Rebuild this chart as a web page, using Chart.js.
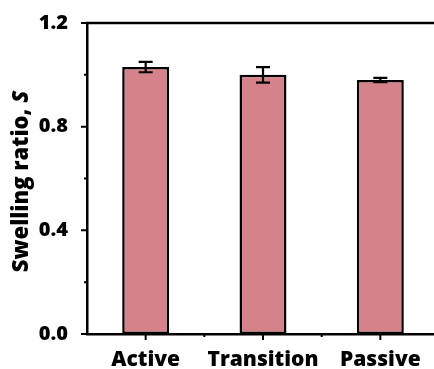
<!DOCTYPE html>
<html>
<head>
<meta charset="utf-8">
<script src="https://cdn.jsdelivr.net/npm/chart.js@4.4.1/dist/chart.umd.min.js"></script>
<style>
    html, body { margin: 0; padding: 0; background: #fff; overflow: hidden; }
    #wrap { position: relative; width: 440px; height: 369px; }
</style>
</head>
<body>
<div id="wrap"><canvas id="chart"></canvas></div>
<script>
    "use strict";

    let categories = ['Active', 'Transition', 'Passive'];
    let swellingValues = [1.03, 1.00, 0.98];
    let swellingErrors = [0.02, 0.03, 0.008];
    let majorTicks = [0, 0.4, 0.8, 1.2];
    let minorTicks = [0.2, 0.6, 1.0];

    let fontName = '"Open Sans", "Noto Sans", sans-serif';

    // error bars, drawn on top of the bars
    let errorBarPlugin = {
        id: 'errorBars',
        afterDatasetsDraw(chart) {
            let ctx = chart.ctx;
            let y = chart.scales.y;
            let meta = chart.getDatasetMeta(0);
            ctx.save();
            ctx.strokeStyle = '#000';
            ctx.lineWidth = 2.2;
            meta.data.forEach((bar, i) => {
                let top = y.getPixelForValue(swellingValues[i] + swellingErrors[i]);
                let bottom = y.getPixelForValue(swellingValues[i] - swellingErrors[i]);
                let x = bar.x;
                ctx.beginPath();
                ctx.moveTo(x, top);
                ctx.lineTo(x, bottom);
                ctx.moveTo(x - 7, top);
                ctx.lineTo(x + 7, top);
                ctx.moveTo(x - 7, bottom);
                ctx.lineTo(x + 7, bottom);
                ctx.stroke();
            });
            ctx.restore();
        }
    };

    // ticks, top frame line and the y title with italic S
    let framePlugin = {
        id: 'frame',
        afterDraw(chart) {
            let ctx = chart.ctx;
            let area = chart.chartArea;
            let y = chart.scales.y;
            let x = chart.scales.x;
            ctx.save();
            ctx.strokeStyle = '#000';
            ctx.lineWidth = 2.5;
            ctx.beginPath();
            ctx.moveTo(area.left - 1, area.top);
            ctx.lineTo(area.right, area.top);
            ctx.stroke();

            ctx.lineWidth = 2;
            ctx.beginPath();
            majorTicks.forEach(v => {
                let py = y.getPixelForValue(v);
                ctx.moveTo(area.left - 6, py);
                ctx.lineTo(area.left, py);
            });
            minorTicks.forEach(v => {
                let py = y.getPixelForValue(v);
                ctx.moveTo(area.left - 3, py);
                ctx.lineTo(area.left, py);
            });
            categories.forEach((c, i) => {
                let px = x.getPixelForValue(i);
                ctx.moveTo(px, area.bottom);
                ctx.lineTo(px, area.bottom + 6);
                let mx = x.getPixelForValue(i + 0.5);
                ctx.moveTo(mx, area.bottom);
                ctx.lineTo(mx, area.bottom + 3);
            });
            ctx.stroke();

            // y axis title
            let part1 = 'Swelling ratio, ';
            let part2 = 'S';
            ctx.translate(22, (area.top + area.bottom) / 2 + 3);
            ctx.rotate(-Math.PI / 2);
            ctx.fillStyle = '#000';
            ctx.textBaseline = 'middle';
            ctx.font = '800 22px ' + fontName;
            let w1 = ctx.measureText(part1).width;
            ctx.font = 'italic 800 22px ' + fontName;
            let w2 = ctx.measureText(part2).width;
            let start = -(w1 + w2) / 2;
            ctx.font = '800 22px ' + fontName;
            ctx.textAlign = 'left';
            ctx.fillText(part1, start, 0);
            ctx.font = 'italic 800 22px ' + fontName;
            ctx.fillText(part2, start + w1, 0);
            ctx.restore();
        }
    };

    new Chart(document.getElementById('chart'), {
        type: 'bar',
        data: {
            labels: categories,
            datasets: [{
                data: swellingValues,
                backgroundColor: 'rgb(214, 130, 138)',
                borderColor: '#000',
                borderWidth: 2.5,
                borderSkipped: false,
                categoryPercentage: 1,
                barPercentage: 0.4
            }]
        },
        options: {
            responsive: true,
            maintainAspectRatio: false,
            animation: false,
            layout: {
                padding: { top: 22, right: 1, left: 0, bottom: 0 }
            },
            plugins: {
                legend: { display: false },
                tooltip: { enabled: false }
            },
            scales: {
                x: {
                    grid: { display: false },
                    border: { display: true, color: '#000', width: 2.5 },
                    ticks: {
                        color: '#000',
                        padding: 5,
                        font: { family: fontName, size: 21, weight: '800' }
                    },
                    afterFit(scale) { scale.height = 35; }
                },
                y: {
                    min: 0,
                    max: 1.2,
                    grid: { display: false },
                    border: { display: true, color: '#000', width: 2.5 },
                    ticks: {
                        stepSize: 0.4,
                        color: '#000',
                        padding: 11,
                        font: { family: fontName, size: 20, weight: '800' },
                        callback: v => v.toFixed(1)
                    },
                    afterFit(scale) { scale.width = 87; }
                }
            }
        },
        plugins: [errorBarPlugin, framePlugin]
    });
</script>
</body>
</html>
